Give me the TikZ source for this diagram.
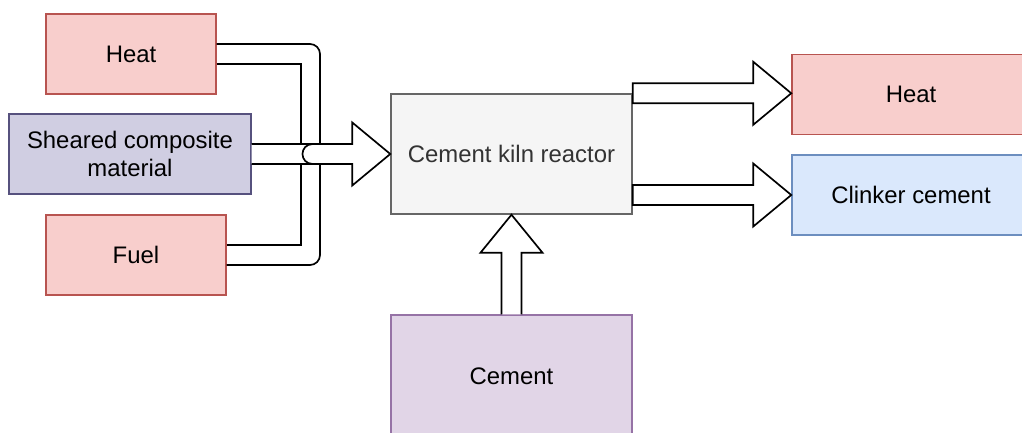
\documentclass[tikz,border=0pt]{standalone}
\usepackage{fontspec}
\setmainfont{Liberation Sans}
\usepackage{xcolor}
\usepackage{tikz}
\usetikzlibrary{calc}

\definecolor{redfill}{HTML}{F8CECC}
\definecolor{redline}{HTML}{B85450}
\definecolor{slatefill}{HTML}{D0CEE2}
\definecolor{slateline}{HTML}{56517E}
\definecolor{greyfill}{HTML}{F5F5F5}
\definecolor{greyline}{HTML}{666666}
\definecolor{bluefill}{HTML}{DAE8FC}
\definecolor{blueline}{HTML}{6C8EBF}
\definecolor{lilacfill}{HTML}{E1D5E7}
\definecolor{lilacline}{HTML}{9673A6}

\tikzset{
  box/.style={draw,rectangle,line width=1pt,inner sep=0pt,align=center,
    font=\fontsize{17}{19.5}\selectfont},
  arrowline/.style={draw=black,line width=1.2pt,line join=miter},
  blockarrow/.style={arrowline,fill=white}
}

\begin{document}
\begin{tikzpicture}[x=0.025cm,y=-0.025cm]

\clip[use as bounding box] (0,0) rectangle (1022,433);

% Inputs
\node[box,minimum width=4.25cm,minimum height=2cm,fill=redfill,draw=redline] (heatin) at (131,54) {Heat};
\node[box,minimum width=6.05cm,minimum height=2cm,fill=slatefill,draw=slateline] (shear) at (130,154) {Sheared composite\\material};
\node[box,minimum width=4.5cm,minimum height=2cm,fill=redfill,draw=redline] (fuelin) at (136,255) {Fuel};

% Reactor
\node[box,minimum width=6.025cm,minimum height=3cm,fill=greyfill,draw=greyline,text=black!80] (reactor) at (511.5,154) {Cement kiln reactor};

% Outputs
\node[box,minimum width=5.95cm,minimum height=2cm,fill=redfill,draw=redline] (heatout) at (911,94.5) {Heat};
\node[box,minimum width=5.95cm,minimum height=2cm,fill=bluefill,draw=blueline] (clinker) at (911,195) {Clinker cement};

% Cement feed
\node[box,minimum width=6.025cm,minimum height=3.05cm,fill=lilacfill,draw=lilacline] (cement) at (511.5,376) {Cement};

% Heat and fuel joined in one bent arrow
\coordinate (merge) at (320,154);
\draw[arrowline,rounded corners=0.25cm] ($(heatin.east)+(0,-10)$) -| ($(merge |- fuelin.east)+(0,10)$) -- ($(fuelin.east)+(0,10)$);
\draw[arrowline] ($(heatin.east)+(0,10)$) -| ($(merge |- fuelin.east)+(-19,-10)$) -- ($(fuelin.east)+(0,-10)$);

% Sheared material into the reactor
\path[blockarrow] ($(shear.east)+(0,-10)$) -- ($(reactor.west)+(-38,-10)$) -- ($(reactor.west)+(-38,-31.5)$)
  -- (reactor.west) -- ($(reactor.west)+(-38,31.5)$) -- ($(reactor.west)+(-38,10)$) -- ($(shear.east)+(0,10)$);
\draw[arrowline] ($(merge)+(-7,-10)$) .. controls ($(merge)+(-21,-10)$) and ($(merge)+(-21,10)$) .. ($(merge)+(-7,10)$);

% Cement up into the reactor
\path[blockarrow] ($(cement.north)+(-10,0)$) -- ($(reactor.south)+(-10,38)$) -- ($(reactor.south)+(-31,38)$)
  -- (reactor.south) -- ($(reactor.south)+(31,38)$) -- ($(reactor.south)+(10,38)$) -- ($(cement.north)+(10,0)$);

% Outputs of the reactor
\coordinate (heattip) at (reactor.north east -| heatout.west);
\path[blockarrow] ($(reactor.north east)+(0,-10)$) -- ($(heattip)+(-38,-10)$) -- ($(heattip)+(-38,-31.5)$)
  -- (heattip) -- ($(heattip)+(-38,31.5)$) -- ($(heattip)+(-38,10)$) -- ($(reactor.north east)+(0,10)$) -- cycle;
\coordinate (clinkertail) at (reactor.east |- clinker.west);
\path[blockarrow] ($(clinkertail)+(0,-10)$) -- ($(clinker.west)+(-38,-10)$) -- ($(clinker.west)+(-38,-31.5)$)
  -- (clinker.west) -- ($(clinker.west)+(-38,31.5)$) -- ($(clinker.west)+(-38,10)$) -- ($(clinkertail)+(0,10)$) -- cycle;

\end{tikzpicture}
\end{document}
